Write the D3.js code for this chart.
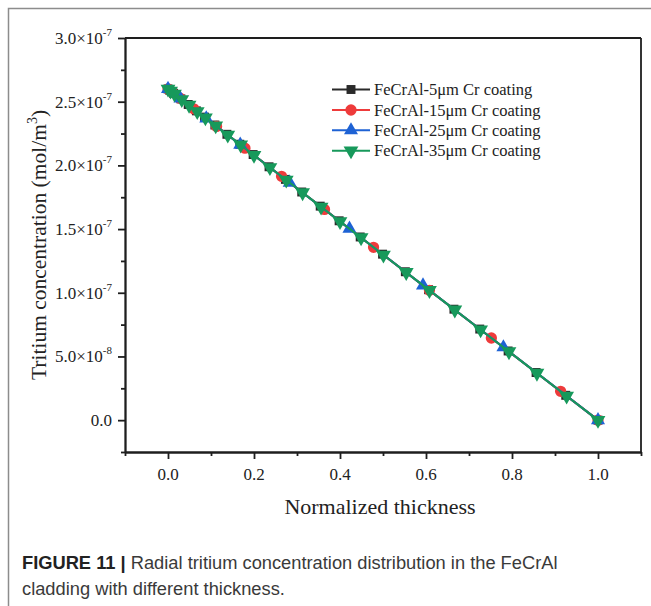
<!DOCTYPE html>
<html>
<head>
<meta charset="utf-8">
<script src="https://cdn.jsdelivr.net/npm/d3@7"></script>
<style>
  html, body { margin: 0; padding: 0; background: #fff; }
  svg { display: block; }
</style>
</head>
<body>
<svg id="chart" width="651" height="606"></svg>
<script>
// Normalized radial position across the cladding wall, and tritium
// concentration in units of 1e-7 mol/m^3 for each coating thickness.
const x5um  = [0, 0.004, 0.013, 0.030, 0.047, 0.066, 0.085, 0.109, 0.137, 0.167, 0.198, 0.235, 0.273, 0.311, 0.354, 0.398, 0.447, 0.499, 0.552, 0.606, 0.665, 0.725, 0.791, 0.856, 0.925, 1.0];
const c5um  = [2.600, 2.590, 2.566, 2.522, 2.478, 2.428, 2.379, 2.317, 2.244, 2.166, 2.085, 1.989, 1.890, 1.791, 1.680, 1.565, 1.438, 1.303, 1.165, 1.024, 0.871, 0.715, 0.543, 0.374, 0.195, 0];

const x15um = [0, 0.010, 0.028, 0.060, 0.113, 0.179, 0.264, 0.364, 0.478, 0.608, 0.752, 0.913, 1.0];
const c15um = [2.600, 2.574, 2.527, 2.444, 2.306, 2.135, 1.914, 1.654, 1.357, 1.019, 0.645, 0.226, 0];

const x25um = [0, 0.029, 0.089, 0.168, 0.283, 0.422, 0.593, 0.780, 1.0];
const c25um = [2.600, 2.525, 2.369, 2.163, 1.864, 1.503, 1.058, 0.572, 0];

const x35um = [0, 0.006, 0.015, 0.032, 0.049, 0.068, 0.087, 0.111, 0.139, 0.169, 0.200, 0.237, 0.275, 0.313, 0.356, 0.400, 0.449, 0.501, 0.554, 0.608, 0.667, 0.727, 0.793, 0.858, 0.927, 1.0];
const c35um = [2.600, 2.584, 2.561, 2.517, 2.473, 2.423, 2.374, 2.311, 2.239, 2.161, 2.080, 1.984, 1.885, 1.786, 1.674, 1.560, 1.433, 1.297, 1.160, 1.019, 0.866, 0.710, 0.538, 0.369, 0.190, 0];

const seriesNames = ["FeCrAl-5\u03bcm Cr coating", "FeCrAl-15\u03bcm Cr coating", "FeCrAl-25\u03bcm Cr coating", "FeCrAl-35\u03bcm Cr coating"];

// Tick labels
const xTickValues = [0, 0.2, 0.4, 0.6, 0.8, 1.0];
const xTickLabels = ["0.0", "0.2", "0.4", "0.6", "0.8", "1.0"];
const yTickValues = [0, 0.5, 1.0, 1.5, 2.0, 2.5, 3.0];
const yTickMantissa = ["0.0", "5.0", "1.0", "1.5", "2.0", "2.5", "3.0"];
const yTickExponent = [null, "-8", "-7", "-7", "-7", "-7", "-7"];

const xTitle = "Normalized thickness";
const yTitle = "Tritium concentration (mol/m";
const captionBold = "FIGURE 11 | ";
const captionLine1 = "Radial tritium concentration distribution in the FeCrAl";
const captionLine2 = "cladding with different thickness.";

// ---- drawing ----
const svg = d3.select("#chart");
const serif = "'Liberation Serif', 'Times New Roman', serif";
const sans = "'Liberation Sans', Arial, sans-serif";

// outer figure frame
svg.append("rect")
  .attr("x", 8.5).attr("y", 8.5)
  .attr("width", 700).attr("height", 700)
  .attr("fill", "none").attr("stroke", "#8c8c8c").attr("stroke-width", 1.5);

const plot = { left: 125, right: 641, top: 38, bottom: 452 };

const x = d3.scaleLinear().domain([-0.1, 1.1]).range([plot.left, plot.right]);
const y = d3.scaleLinear().domain([-0.25, 3.0]).range([plot.bottom, plot.top]);

const axisColor = "#1e1e1e";
const axisWidth = 1.8;

// minor ticks
const xMinor = [-0.1, 0.1, 0.3, 0.5, 0.7, 0.9, 1.1];
const yMinor = [-0.25, 0.25, 0.75, 1.25, 1.75, 2.25, 2.75];

const gx = svg.append("g").attr("transform", `translate(0,${plot.bottom})`);
gx.call(d3.axisBottom(x).tickValues(xTickValues).tickSize(7).tickSizeOuter(0).tickFormat(""));
gx.append("g").call(d3.axisBottom(x).tickValues(xMinor).tickSize(4).tickSizeOuter(0).tickFormat(""));
gx.selectAll(".domain").attr("stroke", axisColor).attr("stroke-width", axisWidth);
gx.selectAll(".tick line").attr("stroke", axisColor).attr("stroke-width", axisWidth);

const gy = svg.append("g").attr("transform", `translate(${plot.left},0)`);
gy.call(d3.axisLeft(y).tickValues(yTickValues).tickSize(7).tickSizeOuter(0).tickFormat(""));
gy.append("g").call(d3.axisLeft(y).tickValues(yMinor).tickSize(4).tickSizeOuter(0).tickFormat(""));
gy.selectAll(".domain").attr("stroke", axisColor).attr("stroke-width", axisWidth);
gy.selectAll(".tick line").attr("stroke", axisColor).attr("stroke-width", axisWidth);

// top and right frame lines
svg.append("line")
  .attr("x1", plot.left).attr("x2", plot.right).attr("y1", plot.top).attr("y2", plot.top)
  .attr("stroke", axisColor).attr("stroke-width", axisWidth);
svg.append("line")
  .attr("x1", plot.right).attr("x2", plot.right).attr("y1", plot.top).attr("y2", plot.bottom)
  .attr("stroke", axisColor).attr("stroke-width", axisWidth);

// x tick labels
svg.append("g").selectAll("text")
  .data(xTickValues)
  .join("text")
  .attr("x", d => x(d))
  .attr("y", plot.bottom + 28)
  .attr("text-anchor", "middle")
  .attr("font-family", serif).attr("font-size", 17).attr("fill", "#222")
  .text((d, i) => xTickLabels[i]);

// y tick labels with power-of-ten notation
const yl = svg.append("g").selectAll("text")
  .data(yTickValues)
  .join("text")
  .attr("x", plot.left - 13)
  .attr("y", d => y(d) + 6)
  .attr("text-anchor", "end")
  .attr("font-family", serif).attr("font-size", 17).attr("fill", "#222");
yl.each(function (d, i) {
  const t = d3.select(this);
  if (yTickExponent[i] === null) {
    t.text(yTickMantissa[i]);
  } else {
    t.append("tspan").text(yTickMantissa[i] + "\u00d710");
    t.append("tspan").attr("dy", -8).attr("font-size", 11).text(yTickExponent[i]);
  }
});

// axis titles
svg.append("text")
  .attr("x", (plot.left + plot.right) / 2 - 3)
  .attr("y", 514)
  .attr("text-anchor", "middle")
  .attr("font-family", serif).attr("font-size", 22).attr("fill", "#222")
  .text(xTitle);

const yt = svg.append("text")
  .attr("transform", `translate(46,${(plot.top + plot.bottom) / 2}) rotate(-90)`)
  .attr("text-anchor", "middle")
  .attr("font-family", serif).attr("font-size", 21.5).attr("fill", "#222");
yt.append("tspan").text(yTitle);
yt.append("tspan").attr("dy", -9).attr("font-size", 14).text("3");
yt.append("tspan").attr("dy", 9).text(")");

// series
const series = [
  { xs: x5um,  cs: c5um,  color: "#2a2a2a", symbol: d3.symbolSquare,   size: 80, rotate: 0 },
  { xs: x15um, cs: c15um, color: "#ee3b3b", symbol: d3.symbolCircle,   size: 100, rotate: 0 },
  { xs: x25um, cs: c25um, color: "#1e62d4", symbol: d3.symbolTriangle, size: 85, rotate: 0 },
  { xs: x35um, cs: c35um, color: "#17995b", symbol: d3.symbolTriangle, size: 95, rotate: 180 }
];

const line = d3.line().x(d => x(d[0])).y(d => y(d[1]));

series.forEach(s => {
  const pts = s.xs.map((v, i) => [v, s.cs[i]]);
  const g = svg.append("g");
  g.append("path")
    .attr("d", line(pts))
    .attr("fill", "none").attr("stroke", s.color).attr("stroke-width", 2);
  g.selectAll("path.mk")
    .data(pts)
    .join("path")
    .attr("class", "mk")
    .attr("d", d3.symbol().type(s.symbol).size(s.size))
    .attr("transform", d => `translate(${x(d[0])},${y(d[1])}) rotate(${s.rotate})`)
    .attr("fill", s.color);
});

// legend
const legend = svg.append("g");
const legendRows = [89.5, 110, 130.3, 150.7];
series.forEach((s, i) => {
  const ly = legendRows[i];
  legend.append("line")
    .attr("x1", 332).attr("x2", 370).attr("y1", ly).attr("y2", ly)
    .attr("stroke", s.color).attr("stroke-width", 2);
  legend.append("path")
    .attr("d", d3.symbol().type(s.symbol).size(s.size)())
    .attr("transform", `translate(351,${ly}) rotate(${s.rotate})`)
    .attr("fill", s.color);
  legend.append("text")
    .attr("x", 374).attr("y", ly + 5.5)
    .attr("font-family", serif).attr("font-size", 16.5).attr("fill", "#222")
    .text(seriesNames[i]);
});

// caption
const cap = svg.append("text")
  .attr("x", 22).attr("y", 569)
  .attr("font-family", sans).attr("font-size", 18.3).attr("fill", "#3a3a3a");
cap.append("tspan").attr("font-weight", "bold").attr("fill", "#222").text(captionBold);
cap.append("tspan").text(captionLine1);
svg.append("text")
  .attr("x", 22).attr("y", 595)
  .attr("font-family", sans).attr("font-size", 18.3).attr("fill", "#3a3a3a")
  .text(captionLine2);
</script>
</body>
</html>
